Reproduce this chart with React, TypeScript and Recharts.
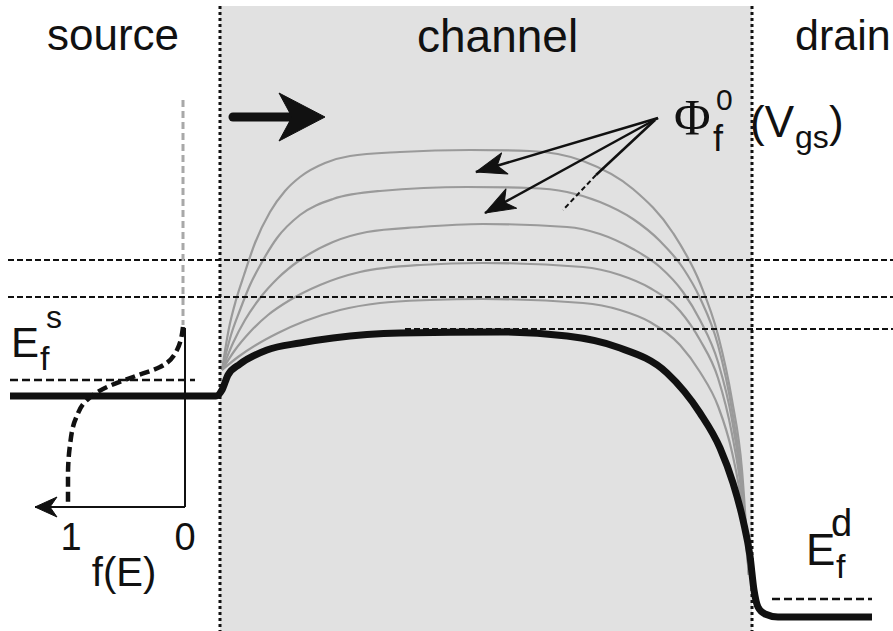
import React from 'react';
import { ComposedChart, Line, XAxis, YAxis, ReferenceArea, ReferenceLine } from 'recharts';

// Diagram coordinates: x = position along the device, y = band energy (screen-down units)
const regionBounds = { channelStart: 220, channelEnd: 752, top: 6, bottom: 631 };

const curveV1 = [[222,370],[229,328],[236,300],[244,275],[255,243],[270,212],[285,191],[300,177],[325,163],[350,156],[400,152],[470,150],[530,151],[583,161],[633,189],[673,233],[700,283],[718,335],[732,400],[742,470],[749,575]];
const curveV2 = [[222,370],[231,335],[240,310],[250,285],[262,262],[277,238],[300,215],[333,199],[380,191],[467,187],[530,188],[567,192],[600,202],[633,219],[660,241],[683,268],[700,298],[718,345],[732,410],[742,482],[749,575]];
const curveV3 = [[222,370],[233,343],[245,320],[260,298],[278,278],[300,260],[333,242],[367,232],[420,227],[483,224],[567,227],[600,234],[633,249],[660,267],[683,292],[700,320],[718,362],[732,420],[742,490],[749,575]];
const curveV4 = [[222,370],[235,350],[250,332],[268,315],[290,300],[320,285],[360,272],[420,265],[483,263],[583,267],[620,275],[650,288],[680,311],[700,340],[718,378],[732,434],[742,497],[749,575]];
const curveV5 = [[222,370],[238,357],[256,345],[278,333],[305,321],[340,310],[380,303],[430,300],[483,299],[583,303],[620,310],[650,322],[680,345],[700,372],[718,406],[732,452],[742,507],[749,575]];
const curveOff = [[10,396],[216,396],[222,390],[228,375],[240,364],[267,350],[300,343],[333,338],[400,333],[500,332],[567,336],[617,347],[667,373],[700,413],[720,448],[733,483],[743,520],[750,556],[754,590],[758,607],[765,614],[778,617],[872,617]];

const fermiCurve = [[183,327],[177,350],[160,367],[133,377],[107,387],[87,400],[76,418],[70,445],[68,475],[68,506]];
const fermiAxisV = [[185,328],[185,507]];
const fermiAxisH = [[185,507],[35,507]];
const sourceMarker = [[183,100],[183,325]];

const levelA = 260;
const levelB = 297;
const levelC = 329;
const sourceFermi = 380;
const drainFermi = 599;

const phiArrow1 = [[658,118],[476,172]];
const phiArrow2 = [[658,118],[485,213]];
const phiLine3Solid = [[655,120],[596,175]];
const phiLine3Dash = [[596,175],[563,210]];
const flowArrow = [[233,117],[298,117]];

const regionLabels = ['source', 'channel', 'drain'];
const fAxisTicks = ['1', '0'];

const pts = (a: number[][]) => a.map(([x, y]) => ({ x, y }));

const SANS = "'Liberation Sans', Arial, Helvetica, sans-serif";
const SERIF = "'Liberation Serif', 'Times New Roman', serif";
const INK = '#111';

function arrowDot(points: number[][], L: number, W: number, notch: number, ahead: number) {
  const last = points.length - 1;
  const [x0, y0] = points[last - 1];
  const [x1, y1] = points[last];
  const ang = (Math.atan2(y1 - y0, x1 - x0) * 180) / Math.PI;
  return (props: any) => {
    const { cx, cy, index } = props;
    if (index !== last || cx == null) return <g key={`d${index}`} />;
    const d = `M ${ahead} 0 L ${ahead - L} ${-W} L ${ahead - notch} 0 L ${ahead - L} ${W} Z`;
    return (
      <path
        key={`a${index}`}
        d={d}
        fill={INK}
        stroke={INK}
        strokeWidth={1}
        strokeLinejoin="round"
        transform={`translate(${cx},${cy}) rotate(${ang})`}
      />
    );
  };
}

const Labels = (_props: any) => (
  <g fill={INK} fontFamily={SANS}>
    <text x={47} y={50} fontSize={44}>{regionLabels[0]}</text>
    <text x={417} y={52} fontSize={46}>{regionLabels[1]}</text>
    <text x={795} y={50} fontSize={43}>{regionLabels[2]}</text>

    <text x={674} y={134} fontSize={50} fontFamily={SERIF}>Φ</text>
    <text x={716} y={110} fontSize={30}>0</text>
    <text x={713} y={151} fontSize={36}>f</text>
    <text x={750} y={137} fontSize={44}>(V</text>
    <text x={795} y={148} fontSize={32}>gs</text>
    <text x={829} y={137} fontSize={44}>)</text>

    <text x={11} y={357} fontSize={42}>E</text>
    <text x={46} y={328} fontSize={32}>s</text>
    <text x={40} y={370} fontSize={34}>f</text>

    <text x={806} y={565} fontSize={44}>E</text>
    <text x={831} y={536} fontSize={38}>d</text>
    <text x={836} y={578} fontSize={34}>f</text>

    <text x={71} y={550} fontSize={38} textAnchor="middle">{fAxisTicks[0]}</text>
    <text x={185} y={550} fontSize={38} textAnchor="middle">{fAxisTicks[1]}</text>
    <text x={124} y={586} fontSize={40} textAnchor="middle">f(E)</text>
  </g>
);

export default function App() {
  const gray = '#9a9a9a';
  const grayCurves = [curveV1, curveV2, curveV3, curveV4, curveV5];
  return (
    <div style={{ position: 'absolute', left: 0, top: 0, width: 893, height: 631, background: '#fff' }}>
      <ComposedChart width={893} height={631} margin={{ top: 0, right: 0, bottom: 0, left: 0 }}>
        <XAxis type="number" dataKey="x" domain={[0, 893]} hide allowDataOverflow />
        <YAxis type="number" dataKey="y" domain={[0, 631]} reversed hide allowDataOverflow />

        <ReferenceArea
          x1={regionBounds.channelStart}
          x2={regionBounds.channelEnd}
          y1={regionBounds.top}
          y2={regionBounds.bottom}
          fill="#e1e1e1"
          fillOpacity={1}
          stroke="none"
          label={<Labels />}
        />

        {grayCurves.map((c, i) => (
          <Line
            key={`g${i}`}
            data={pts(c)}
            dataKey="y"
            type="monotone"
            stroke={gray}
            strokeWidth={2.2}
            dot={false}
            activeDot={false}
            isAnimationActive={false}
          />
        ))}

        <ReferenceLine segment={[{ x: 8, y: levelA }, { x: 893, y: levelA }]} stroke={INK} strokeWidth={2} strokeDasharray="6 3" />
        <ReferenceLine segment={[{ x: 8, y: levelB }, { x: 893, y: levelB }]} stroke={INK} strokeWidth={2} strokeDasharray="6 3" />
        <ReferenceLine segment={[{ x: 405, y: levelC }, { x: 893, y: levelC }]} stroke={INK} strokeWidth={2} strokeDasharray="6 3" />
        <ReferenceLine segment={[{ x: 10, y: sourceFermi }, { x: 195, y: sourceFermi }]} stroke={INK} strokeWidth={2.5} strokeDasharray="8 4" />
        <ReferenceLine segment={[{ x: 772, y: drainFermi }, { x: 872, y: drainFermi }]} stroke={INK} strokeWidth={2.5} strokeDasharray="8 4" />

        <ReferenceLine
          segment={[{ x: regionBounds.channelStart, y: regionBounds.top }, { x: regionBounds.channelStart, y: regionBounds.bottom }]}
          stroke={INK}
          strokeWidth={3}
          strokeDasharray="3 3"
        />
        <ReferenceLine
          segment={[{ x: regionBounds.channelEnd, y: regionBounds.top }, { x: regionBounds.channelEnd, y: regionBounds.bottom }]}
          stroke={INK}
          strokeWidth={3}
          strokeDasharray="3 3"
        />

        <Line data={pts(sourceMarker)} dataKey="y" type="linear" stroke="#a8a8a8" strokeWidth={3} strokeDasharray="7 4" dot={false} activeDot={false} isAnimationActive={false} />
        <Line data={pts(fermiAxisV)} dataKey="y" type="linear" stroke={INK} strokeWidth={2} dot={false} activeDot={false} isAnimationActive={false} />
        <Line data={pts(fermiAxisH)} dataKey="y" type="linear" stroke={INK} strokeWidth={2} dot={arrowDot(fermiAxisH, 22, 10, 15, 0)} activeDot={false} isAnimationActive={false} />
        <Line data={pts(fermiCurve)} dataKey="y" type="monotoneY" stroke={INK} strokeWidth={4.5} strokeDasharray="10 5" dot={false} activeDot={false} isAnimationActive={false} />

        <Line data={pts(curveOff)} dataKey="y" type="monotone" stroke={INK} strokeWidth={7} dot={false} activeDot={false} isAnimationActive={false} />

        <Line data={pts(flowArrow)} dataKey="y" type="linear" stroke={INK} strokeWidth={9} strokeLinecap="round" dot={arrowDot(flowArrow, 46, 24, 33, 27)} activeDot={false} isAnimationActive={false} />
        <Line data={pts(phiArrow1)} dataKey="y" type="linear" stroke={INK} strokeWidth={2.5} dot={arrowDot(phiArrow1, 30, 11, 22, 0)} activeDot={false} isAnimationActive={false} />
        <Line data={pts(phiArrow2)} dataKey="y" type="linear" stroke={INK} strokeWidth={2.5} dot={arrowDot(phiArrow2, 30, 11, 22, 0)} activeDot={false} isAnimationActive={false} />
        <Line data={pts(phiLine3Solid)} dataKey="y" type="linear" stroke={INK} strokeWidth={2.5} dot={false} activeDot={false} isAnimationActive={false} />
        <Line data={pts(phiLine3Dash)} dataKey="y" type="linear" stroke={INK} strokeWidth={2} strokeDasharray="5 3" dot={false} activeDot={false} isAnimationActive={false} />
      </ComposedChart>
    </div>
  );
}
